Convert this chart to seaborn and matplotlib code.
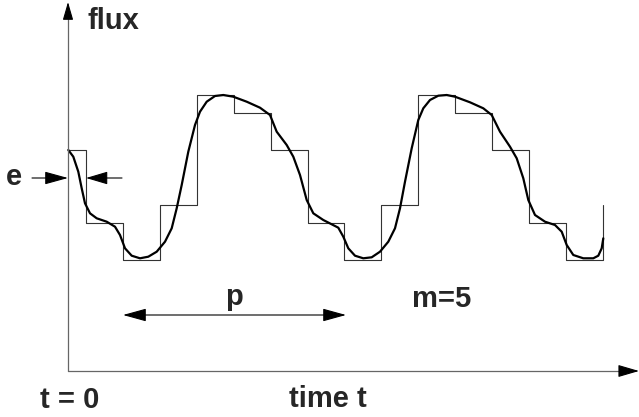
import numpy as np
import pandas as pd
import matplotlib
matplotlib.use("Agg")
import matplotlib.pyplot as plt
import seaborn as sns

# step function (time edges and flux level held from each edge)
step_time = [0, 18, 55, 92, 129, 166, 203, 240, 276, 313, 350, 387, 424, 461, 498, 535]
step_flux = [221, 148, 111, 166, 276, 258, 221, 148, 111, 166, 276, 258, 221, 148, 111, 166]

# smooth light curve
curve_time = [0.3, 5.3, 10.3, 13.7, 17, 22, 28.7, 38.7, 47, 52, 57, 63.7, 72, 80.3, 88.7,
              97, 103.7, 108.7, 113.7, 120.3, 127, 132, 138.7, 147, 155.3, 165.3, 178.7,
              192, 202, 208.7, 218.7, 225.3, 232, 238.7, 245.3, 255.3, 263.7, 270.3, 275.3,
              280.3, 287, 295.3, 303.7, 312, 320.3, 327, 332, 337, 343.7, 350.3, 355.3, 362,
              370.3, 378.7, 387, 402, 415.3, 423.7, 432, 442, 448.7, 455.3, 460.3, 467, 477,
              487, 493.7, 498.7, 505.3, 515.3, 525.3, 530.3, 533.7, 535.3]
curve_flux = [221, 214.3, 199.3, 182.7, 167.7, 157.7, 152.7, 149.3, 144.3, 136, 122.7, 115.3,
              112.7, 114.3, 119.3, 129.3, 142.7, 162.7, 186, 219.3, 246, 259.3, 269.3, 275,
              276, 274.3, 269.3, 263.3, 256, 239.3, 226, 214.3, 196, 171, 157.7, 151, 146.7,
              143.3, 134.3, 122.7, 115.3, 112.7, 113.7, 119.3, 129.3, 142.7, 162.7, 189.3,
              222.7, 251, 262.7, 271, 275.3, 276, 274.3, 268.7, 262.7, 256, 239.3, 224.3,
              212.7, 192.7, 171, 156, 149.3, 146, 139.3, 126, 116, 112.7, 112.7, 115.3,
              122.7, 132.7]

steps = pd.DataFrame({"time": step_time, "flux": step_flux})
curve = pd.DataFrame({"time": curve_time, "flux": curve_flux})

sns.set_style("white")
plt.rcParams['font.family'] = ['Liberation Sans', 'DejaVu Sans']

fig = plt.figure(figsize=(6.39, 4.17), dpi=100)
ax = fig.add_axes([0, 0, 1, 1])

sns.lineplot(data=steps, x="time", y="flux", ax=ax, drawstyle="steps-post",
             estimator=None, sort=False, color="#333333", linewidth=0.8)
sns.lineplot(data=curve, x="time", y="flux", ax=ax, estimator=None, sort=False,
             color="black", linewidth=1.6)

ax.set_xlim(-68, 571)
ax.set_ylim(-46, 371)
ax.axis("off")


def arrow(x0, y0, x1, y1, style="-|>", hl=14, hw=3.6, color="black", lw=0.8):
    ax.annotate("", xy=(x1, y1), xytext=(x0, y0),
                arrowprops=dict(arrowstyle=f"{style},head_length={hl},head_width={hw}",
                                color=color, lw=lw, shrinkA=0, shrinkB=0,
                                mutation_scale=1))


# axes with arrow heads
ax.plot([0, 555], [0, 0], color="#666666", lw=0.9)
ax.plot([0, 0], [0, 355], color="#666666", lw=0.9)
arrow(553, 0, 571, 0, hl=13, hw=3.8)
arrow(0, 354, 0, 369, hl=11, hw=3.2)

# e markers and period arrow
arrow(-36, 193, 0, 193, hl=14.5, hw=4.0)
arrow(54, 193, 18, 193, hl=13.5, hw=4.0)
arrow(55, 56, 278, 56, style="<|-|>", hl=14.5, hw=4.0)

font = dict(fontsize=21, fontweight="bold", va="baseline")
ax.text(19, 342, "flux", ha="left", **font)
ax.text(-28, -37, "t = 0", ha="left", **font)
ax.text(221, -36, "time t", ha="left", **font)
ax.text(-54, 186, "e", ha="center", **font)
ax.text(166, 66, "p", ha="center", **font)
ax.text(374, 64, "m=5", ha="center", **font)

fig.savefig("out.png", dpi=100, facecolor="white")
